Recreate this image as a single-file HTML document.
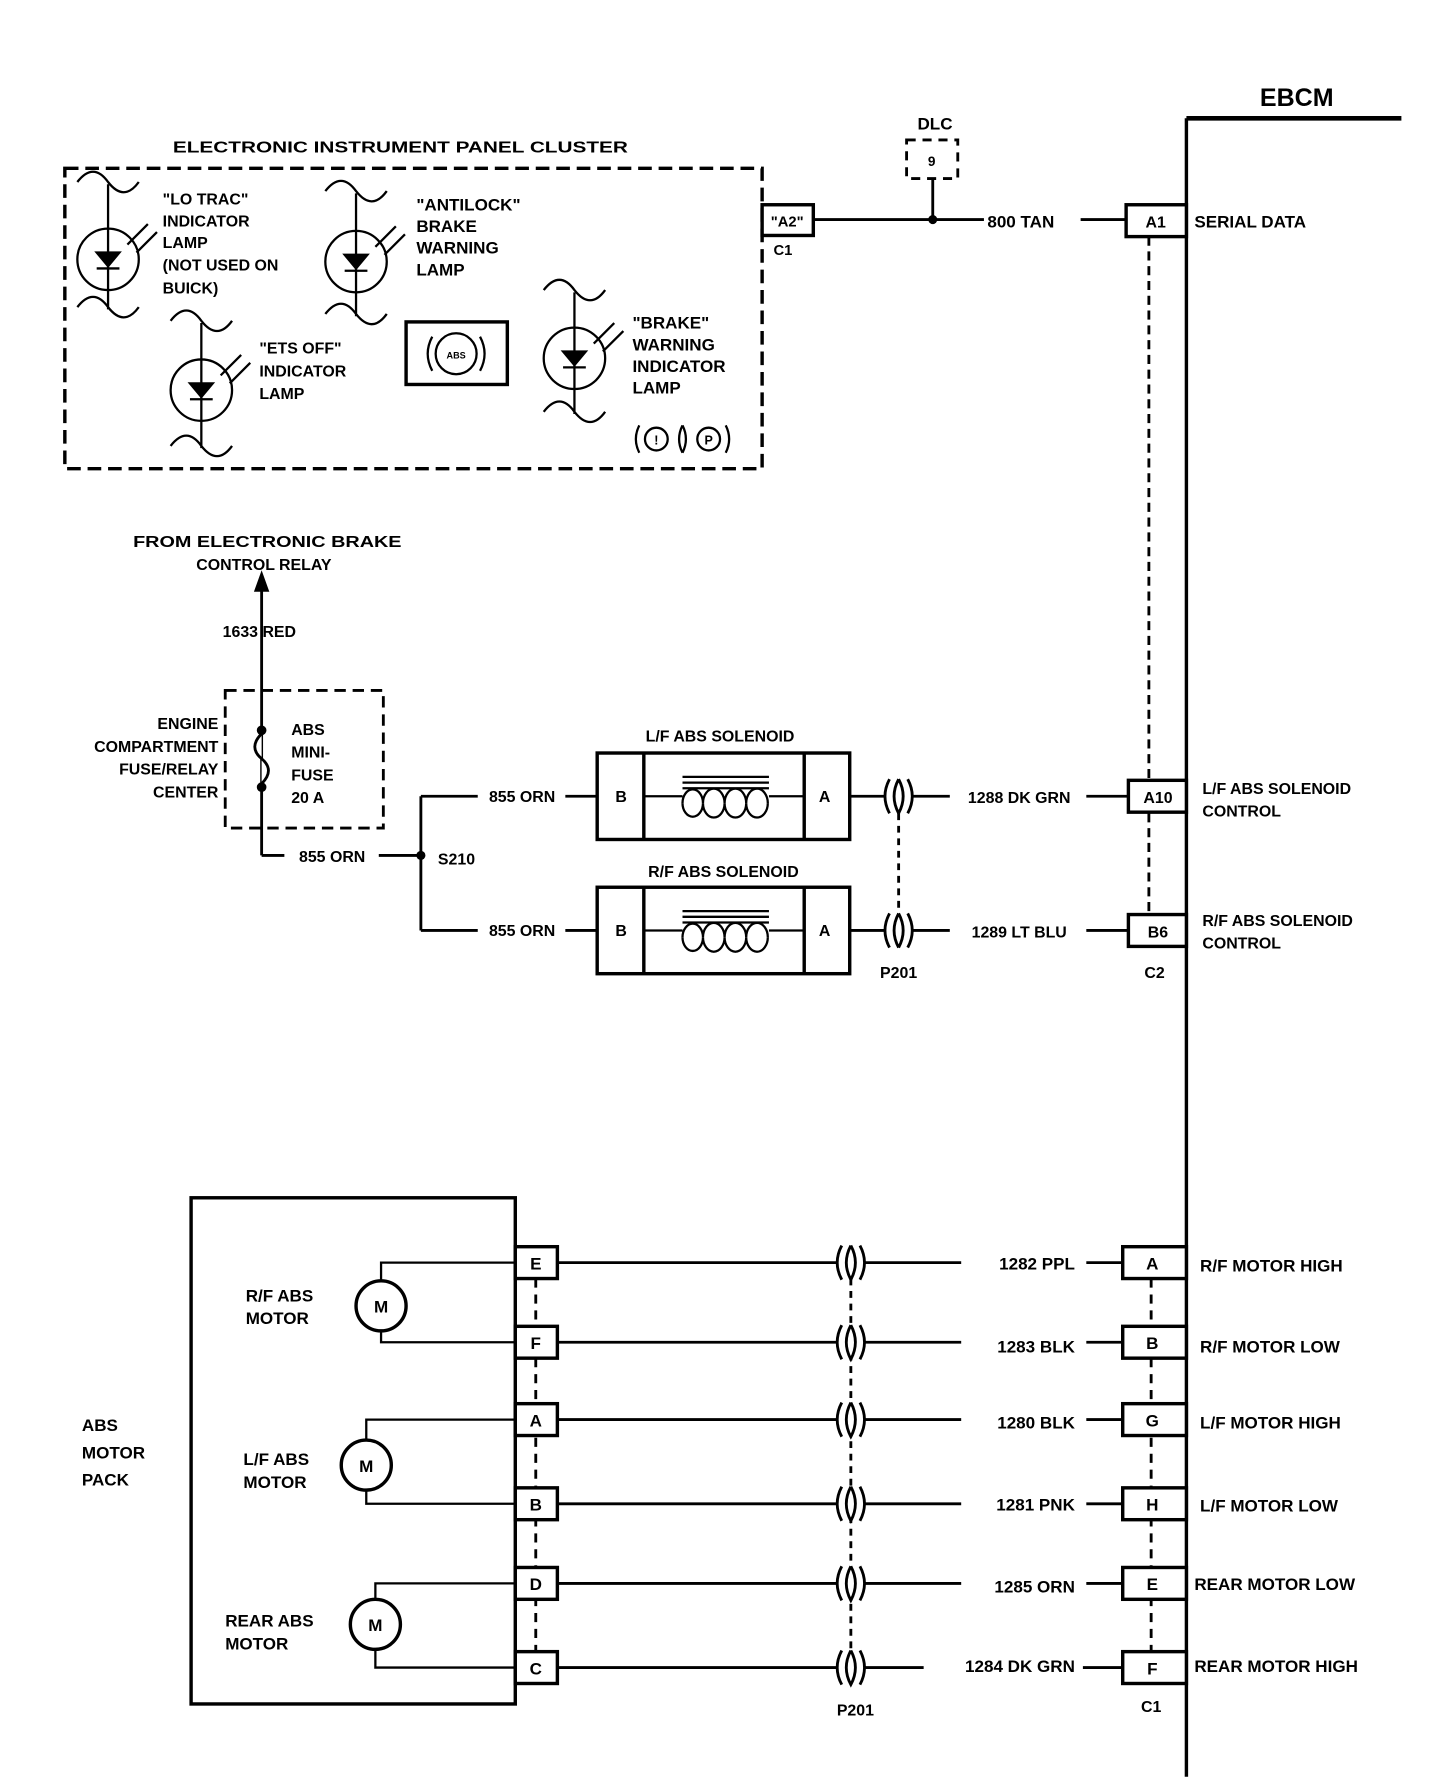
<!DOCTYPE html>
<html><head><style>html,body{margin:0;padding:0;background:#fff}svg{display:block}text{font-family:"Liberation Sans",sans-serif;font-weight:bold;fill:#000}</style></head><body>
<svg width="1456" height="1782" viewBox="0 0 1280 1566.6" preserveAspectRatio="none" xmlns="http://www.w3.org/2000/svg">
<g stroke="#000" fill="none" stroke-width="2.5">
<!-- dashed links first -->
<line x1="1010" y1="208" x2="1010" y2="804" stroke-dasharray="8,5"/>
<line x1="790" y1="715" x2="790" y2="803" stroke-dasharray="6,5"/>
<line x1="471" y1="1124" x2="471" y2="1452" stroke-dasharray="8,6"/>
<line x1="1012" y1="1124" x2="1012" y2="1452" stroke-dasharray="8,6"/>
<line x1="748" y1="1124" x2="748" y2="1452" stroke-dasharray="6,5"/>
<!-- EBCM -->
<line x1="1043" y1="104" x2="1232" y2="104" stroke-width="4"/>
<line x1="1043" y1="104" x2="1043" y2="1562" stroke-width="3"/>
<!-- cluster box -->
<rect x="57" y="148" width="613" height="264" stroke-width="3" stroke-dasharray="12,6"/>
<rect x="670" y="180" width="45" height="27" stroke-width="3" fill="#fff"/>
<line x1="715" y1="193" x2="865" y2="193"/>
<rect x="797" y="123" width="45" height="34" stroke-dasharray="8,6"/>
<line x1="820" y1="157" x2="820" y2="193"/>
<line x1="950" y1="193" x2="990" y2="193"/>
<rect x="990" y="180" width="53" height="28" stroke-width="3" fill="#fff"/>
<!-- lamps -->
<g stroke-width="2">
<circle cx="95" cy="228" r="27"/><path d="M68 160 q14 -18 27 0 q14 18 27 0 M68 270 q14 -18 27 0 q14 18 27 0 M95 162 V272"/><path d="M85 222 h20 l-10 12 z M85 236 h20" fill="#000"/><path d="M112 215 l18 -18 M120 222 l18 -18"/>
<circle cx="313" cy="230" r="27"/><path d="M286 168 q14 -18 27 0 q14 18 27 0 M286 276 q14 -18 27 0 q14 18 27 0 M313 170 V278"/><path d="M303 224 h20 l-10 12 z M303 238 h20" fill="#000"/><path d="M330 217 l18 -18 M338 224 l18 -18"/>
<circle cx="177" cy="343" r="27"/><path d="M150 282 q14 -18 27 0 q14 18 27 0 M150 392 q14 -18 27 0 q14 18 27 0 M177 284 V394"/><path d="M167 337 h20 l-10 12 z M167 351 h20" fill="#000"/><path d="M194 330 l18 -18 M202 337 l18 -18"/>
<circle cx="505" cy="315" r="27"/><path d="M478 255 q14 -18 27 0 q14 18 27 0 M478 362 q14 -18 27 0 q14 18 27 0 M505 257 V364"/><path d="M495 309 h20 l-10 12 z M495 323 h20" fill="#000"/><path d="M522 302 l18 -18 M530 309 l18 -18"/>
<rect x="357" y="283" width="89" height="55" stroke-width="3"/>
<circle cx="401" cy="311" r="18"/><path d="M380 296 q-8 15 0 30 M422 296 q8 15 0 30"/>
<circle cx="577" cy="386" r="10"/><circle cx="623" cy="386" r="10"/><path d="M562 374 q-6 12 0 24 M638 374 q6 12 0 24 M600 374 q-6 12 0 24 M600 374 q6 12 0 24"/>
</g>
<!-- relay/fuse -->
<line x1="230" y1="515" x2="230" y2="752"/>
<path d="M230 505 l-5 14 h10 z" fill="#000"/>
<rect x="198" y="607" width="139" height="121" stroke-dasharray="10,6"/>
<path d="M230 645 q-12 12 0 22 q12 10 0 22" fill="#fff"/>
<circle cx="230" cy="642" r="3" fill="#000"/><circle cx="230" cy="692" r="3" fill="#000"/>
<line x1="230" y1="752" x2="250" y2="752"/>
<line x1="333" y1="752" x2="370" y2="752"/>
<line x1="370" y1="700" x2="370" y2="818"/>
<line x1="370" y1="700" x2="420" y2="700"/><line x1="370" y1="818" x2="420" y2="818"/>
<line x1="497" y1="700" x2="525" y2="700"/><line x1="497" y1="818" x2="525" y2="818"/>
<!-- solenoids -->
<g stroke-width="3">
<rect x="525" y="662" width="222" height="76"/><line x1="566" y1="662" x2="566" y2="738"/><line x1="707" y1="662" x2="707" y2="738"/>
<rect x="525" y="780" width="222" height="76"/><line x1="566" y1="780" x2="566" y2="856"/><line x1="707" y1="780" x2="707" y2="856"/>
</g>
<g stroke-width="2">
<path d="M566 700 H600 M676 700 H707 M600 683 H676 M600 688 H676 M600 693 H676"/>
<path d="M600 706 a9 12 0 1 0 18 0 a9 12 0 1 0 0 0 M618 706 a9 12 0 1 0 19 0 M637 706 a9 12 0 1 0 19 0 M656 706 a9 12 0 1 0 19 0"/>
<path d="M600 706 a9 12 0 1 1 18 0 M618 706 a9 12 0 1 1 19 0 M637 706 a9 12 0 1 1 19 0 M656 706 a9 12 0 1 1 19 0"/>
<path d="M566 818 H600 M676 818 H707 M600 801 H676 M600 806 H676 M600 811 H676"/>
<path d="M600 824 a9 12 0 1 0 18 0 M618 824 a9 12 0 1 0 19 0 M637 824 a9 12 0 1 0 19 0 M656 824 a9 12 0 1 0 19 0"/>
<path d="M600 824 a9 12 0 1 1 18 0 M618 824 a9 12 0 1 1 19 0 M637 824 a9 12 0 1 1 19 0 M656 824 a9 12 0 1 1 19 0"/>
</g>
<line x1="747" y1="700" x2="780" y2="700"/><line x1="800" y1="700" x2="835" y2="700"/>
<line x1="747" y1="818" x2="780" y2="818"/><line x1="800" y1="818" x2="835" y2="818"/>
<path d="M782 685 q-8 15 0 30 M790 685 q-8 15 0 30 M790 685 q8 15 0 30 M798 685 q8 15 0 30" fill="#fff"/>
<path d="M782 803 q-8 15 0 30 M790 803 q-8 15 0 30 M790 803 q8 15 0 30 M798 803 q8 15 0 30" fill="#fff"/>
<line x1="955" y1="700" x2="992" y2="700"/><rect x="992" y="686" width="51" height="28" stroke-width="3" fill="#fff"/>
<line x1="955" y1="818" x2="992" y2="818"/><rect x="992" y="804" width="51" height="28" stroke-width="3" fill="#fff"/>
<!-- motor pack -->
<rect x="168" y="1053" width="285" height="445" stroke-width="3"/>
<g stroke-width="3" fill="#fff">
<rect x="453" y="1096" width="37" height="28"/><rect x="453" y="1166" width="37" height="28"/>
<rect x="453" y="1234" width="37" height="28"/><rect x="453" y="1308" width="37" height="28"/>
<rect x="453" y="1378" width="37" height="28"/><rect x="453" y="1452" width="37" height="28"/>
<rect x="987" y="1096" width="56" height="28"/><rect x="987" y="1166" width="56" height="28"/>
<rect x="987" y="1234" width="56" height="28"/><rect x="987" y="1308" width="56" height="28"/>
<rect x="987" y="1378" width="56" height="28"/><rect x="987" y="1452" width="56" height="28"/>
</g>
<g>
<path d="M490 1110 H738 M758 1110 H845 M955 1110 H987"/>
<path d="M490 1180 H738 M758 1180 H845 M955 1180 H987"/>
<path d="M490 1248 H738 M758 1248 H845 M955 1248 H987"/>
<path d="M490 1322 H738 M758 1322 H845 M955 1322 H987"/>
<path d="M490 1392 H738 M758 1392 H845 M955 1392 H987"/>
<path d="M490 1466 H738 M758 1466 H812 M952 1466 H987"/>
</g>
<g stroke-width="2.5" fill="#fff">
<path d="M740 1095 q-8 15 0 30 M748 1095 q-8 15 0 30 q8 -15 0 -30 M756 1095 q8 15 0 30"/>
<path d="M740 1165 q-8 15 0 30 M748 1165 q-8 15 0 30 q8 -15 0 -30 M756 1165 q8 15 0 30"/>
<path d="M740 1233 q-8 15 0 30 M748 1233 q-8 15 0 30 q8 -15 0 -30 M756 1233 q8 15 0 30"/>
<path d="M740 1307 q-8 15 0 30 M748 1307 q-8 15 0 30 q8 -15 0 -30 M756 1307 q8 15 0 30"/>
<path d="M740 1377 q-8 15 0 30 M748 1377 q-8 15 0 30 q8 -15 0 -30 M756 1377 q8 15 0 30"/>
<path d="M740 1451 q-8 15 0 30 M748 1451 q-8 15 0 30 q8 -15 0 -30 M756 1451 q8 15 0 30"/>
</g>
<circle cx="335" cy="1148" r="22" stroke-width="3"/>
<path d="M335 1126 V1110 H453 M335 1170 V1180 H453" stroke-width="2"/>
<circle cx="322" cy="1288" r="22" stroke-width="3"/>
<path d="M322 1266 V1248 H453 M322 1310 V1322 H453" stroke-width="2"/>
<circle cx="330" cy="1428" r="22" stroke-width="3"/>
<path d="M330 1406 V1392 H453 M330 1450 V1466 H453" stroke-width="2"/>
</g>
<circle cx="820" cy="193" r="4"/><circle cx="370" cy="752" r="4"/>
<g font-size="14">
<text x="1140" y="93" font-size="22" text-anchor="middle">EBCM</text>
<text x="152" y="134" textLength="400" lengthAdjust="spacingAndGlyphs">ELECTRONIC INSTRUMENT PANEL CLUSTER</text>
<text x="822" y="114" font-size="15" text-anchor="middle">DLC</text>
<text x="819" y="146" text-anchor="middle" font-size="12">9</text>
<text x="692" y="199" text-anchor="middle" font-size="13">"A2"</text>
<text x="680" y="224" font-size="13">C1</text>
<text x="868" y="200" font-size="15">800 TAN</text>
<text x="1016" y="200" text-anchor="middle" font-size="14">A1</text>
<text x="1050" y="200" font-size="15">SERIAL DATA</text>
<g font-size="14">
<text x="143" y="180">"LO TRAC"</text><text x="143" y="199">INDICATOR</text><text x="143" y="218">LAMP</text><text x="143" y="238">(NOT USED ON</text><text x="143" y="258">BUICK)</text>
<text x="366" y="185" font-size="15">"ANTILOCK"</text><text x="366" y="204" font-size="15">BRAKE</text><text x="366" y="223" font-size="15">WARNING</text><text x="366" y="242" font-size="15">LAMP</text>
<text x="228" y="311">"ETS OFF"</text><text x="228" y="331">INDICATOR</text><text x="228" y="351">LAMP</text>
<text x="556" y="289" font-size="15">"BRAKE"</text><text x="556" y="308" font-size="15">WARNING</text><text x="556" y="327" font-size="15">INDICATOR</text><text x="556" y="346" font-size="15">LAMP</text>
<text x="401" y="315" font-size="8" text-anchor="middle">ABS</text>
<text x="577" y="391" font-size="11" text-anchor="middle">!</text><text x="623" y="391" font-size="11" text-anchor="middle">P</text>
</g>
<text x="235" y="481" text-anchor="middle" textLength="236" lengthAdjust="spacingAndGlyphs">FROM ELECTRONIC BRAKE</text>
<text x="232" y="501" text-anchor="middle">CONTROL RELAY</text>
<text x="228" y="560" text-anchor="middle">1633 RED</text>
<text x="192" y="641" text-anchor="end">ENGINE</text>
<text x="192" y="661" text-anchor="end">COMPARTMENT</text>
<text x="192" y="681" text-anchor="end">FUSE/RELAY</text>
<text x="192" y="701" text-anchor="end">CENTER</text>
<text x="256" y="646">ABS</text><text x="256" y="666">MINI-</text><text x="256" y="686">FUSE</text><text x="256" y="706">20 A</text>
<text x="292" y="758" text-anchor="middle">855 ORN</text>
<text x="385" y="760">S210</text>
<text x="459" y="705" text-anchor="middle">855 ORN</text>
<text x="459" y="823" text-anchor="middle">855 ORN</text>
<text x="633" y="652" text-anchor="middle">L/F ABS SOLENOID</text>
<text x="636" y="771" text-anchor="middle">R/F ABS SOLENOID</text>
<text x="546" y="705" text-anchor="middle">B</text><text x="725" y="705" text-anchor="middle">A</text>
<text x="546" y="823" text-anchor="middle">B</text><text x="725" y="823" text-anchor="middle">A</text>
<text x="790" y="860" text-anchor="middle">P201</text>
<text x="896" y="706" text-anchor="middle">1288 DK GRN</text>
<text x="896" y="824" text-anchor="middle">1289 LT BLU</text>
<text x="1018" y="706" text-anchor="middle">A10</text>
<text x="1018" y="824" text-anchor="middle">B6</text>
<text x="1015" y="860" text-anchor="middle">C2</text>
<text x="1057" y="698">L/F ABS SOLENOID</text><text x="1057" y="718">CONTROL</text>
<text x="1057" y="814">R/F ABS SOLENOID</text><text x="1057" y="834">CONTROL</text>
<g font-size="15">
<text x="72" y="1258">ABS</text><text x="72" y="1282">MOTOR</text><text x="72" y="1306">PACK</text>
<text x="216" y="1144">R/F ABS</text><text x="216" y="1164">MOTOR</text>
<text x="214" y="1288">L/F ABS</text><text x="214" y="1308">MOTOR</text>
<text x="198" y="1430">REAR ABS</text><text x="198" y="1450">MOTOR</text>
<text x="335" y="1154" text-anchor="middle">M</text><text x="322" y="1294" text-anchor="middle">M</text><text x="330" y="1434" text-anchor="middle">M</text>
<text x="471" y="1116" text-anchor="middle">E</text><text x="471" y="1186" text-anchor="middle">F</text>
<text x="471" y="1254" text-anchor="middle">A</text><text x="471" y="1328" text-anchor="middle">B</text>
<text x="471" y="1398" text-anchor="middle">D</text><text x="471" y="1472" text-anchor="middle">C</text>
<text x="1013" y="1116" text-anchor="middle">A</text><text x="1013" y="1186" text-anchor="middle">B</text>
<text x="1013" y="1254" text-anchor="middle">G</text><text x="1013" y="1328" text-anchor="middle">H</text>
<text x="1013" y="1398" text-anchor="middle">E</text><text x="1013" y="1472" text-anchor="middle">F</text>
<text x="945" y="1116" text-anchor="end">1282 PPL</text>
<text x="945" y="1189" text-anchor="end">1283 BLK</text>
<text x="945" y="1256" text-anchor="end">1280 BLK</text>
<text x="945" y="1328" text-anchor="end">1281 PNK</text>
<text x="945" y="1400" text-anchor="end">1285 ORN</text>
<text x="945" y="1470" text-anchor="end">1284 DK GRN</text>
<text x="1055" y="1118">R/F MOTOR HIGH</text>
<text x="1055" y="1189">R/F MOTOR LOW</text>
<text x="1055" y="1256">L/F MOTOR HIGH</text>
<text x="1055" y="1329">L/F MOTOR LOW</text>
<text x="1050" y="1398">REAR MOTOR LOW</text>
<text x="1050" y="1470">REAR MOTOR HIGH</text>
<text x="752" y="1508" text-anchor="middle" font-size="14">P201</text>
<text x="1012" y="1505" text-anchor="middle" font-size="14">C1</text>
</g>
</g>
</svg>
</body></html>
